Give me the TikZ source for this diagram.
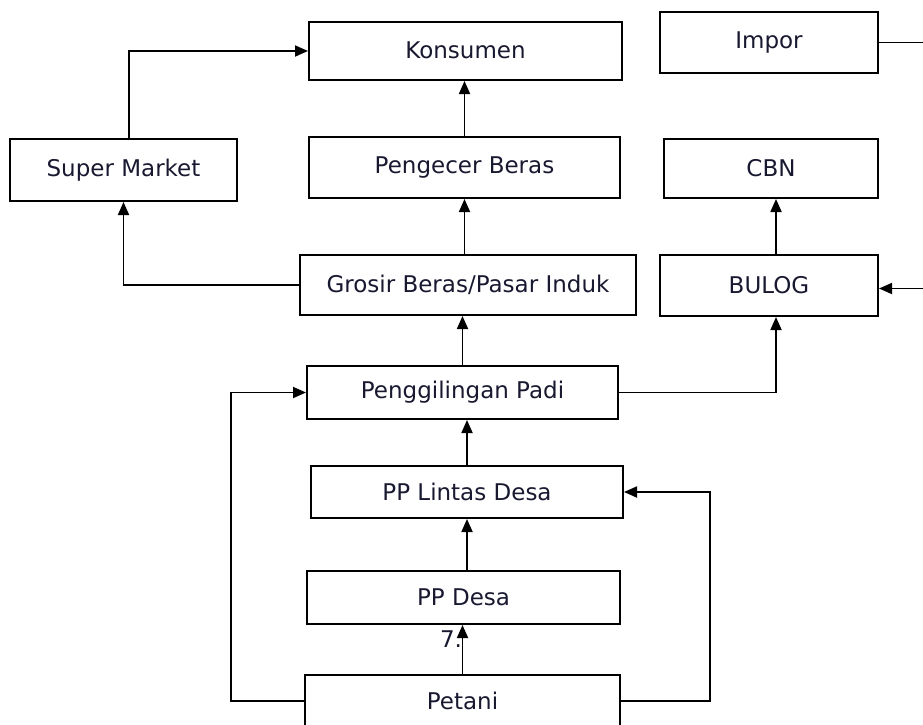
\documentclass[tikz,border=0pt]{standalone}
\usepackage{fontspec}
\setmainfont{DejaVu Sans}
\usetikzlibrary{arrows.meta}
\definecolor{ink}{RGB}{24,24,48}
\begin{document}
\begin{tikzpicture}[x=1pt,y=-1pt,
  box/.style={draw=black,line width=2pt,rectangle,inner sep=0pt,
    text=ink,font=\fontsize{23}{27}\selectfont},
  arr/.style={line width=1.8pt,-{Triangle[length=13pt,width=11pt]}}]
\useasboundingbox (0,0) rectangle (923,725);
\clip (0,0) rectangle (923,725);

% boxes
\node[box,minimum width=313pt,minimum height=58pt] (kons) at (465.5,51) {\raisebox{2pt}{Konsumen}};
\node[box,minimum width=218pt,minimum height=61pt] (imp)  at (769,42.5) {\raisebox{2pt}{Impor}};
\node[box,minimum width=227pt,minimum height=62pt] (sm)   at (123.5,170) {\raisebox{2pt}{Super Market}};
\node[box,minimum width=311pt,minimum height=61pt] (peng) at (464.5,167.5) {\raisebox{3pt}{Pengecer Beras}};
\node[box,minimum width=214pt,minimum height=59pt] (cbn)  at (771,168.5) {\raisebox{2pt}{CBN}};
\node[box,minimum width=336pt,minimum height=60pt] (gro)  at (468,285) {Grosir Beras/Pasar Induk};
\node[box,minimum width=218pt,minimum height=61pt] (bul)  at (769,285.5) {BULOG};
\node[box,minimum width=311pt,minimum height=53pt] (ggl)  at (462.5,392.5) {Penggilingan Padi};
\node[box,minimum width=312pt,minimum height=52pt] (ppl)  at (467,492) {PP Lintas Desa};
\node[box,minimum width=313pt,minimum height=53pt] (ppd)  at (463.5,597.5) {PP Desa};
\node[box,minimum width=315pt,minimum height=52pt] (pet)  at (462.5,701) {Petani};

% stray label under PP Desa
\node[text=ink,font=\fontsize{23}{27}\selectfont,inner sep=0pt] (seven) at (451,639) {7.};

% connectors
\draw[arr] ([xshift=5.5pt]sm.north) |- (kons.west);
\draw[arr] (peng.north) -- (peng.north |- kons.south);
\draw[arr] (gro.north -| peng) -- (peng.south);
\draw[arr] (gro.west) -| (sm.south);
\draw[arr] (ggl.north) -- (ggl.north |- gro.south);
\draw[arr] (ggl.east) -| ([xshift=7pt]bul.south);
\draw[arr] ([xshift=7pt]bul.north) -- ([xshift=7pt]bul.north |- cbn.south);
\draw[arr] (imp.east) -- ++(70,0) |- ([yshift=-3pt]bul.east);
\draw[arr] (ppl.north) -- (ppl.north |- ggl.south);
\draw[arr] (ppd.north -| ppl) -- (ppl.south);
\draw[arr] (pet.north) -- (pet.north |- ppd.south);
\draw[arr] (pet.west) -- ++(-73,0) |- (ggl.west);
\draw[arr] (pet.east) -- ++(89,0) |- (ppl.east);
\end{tikzpicture}
\end{document}
